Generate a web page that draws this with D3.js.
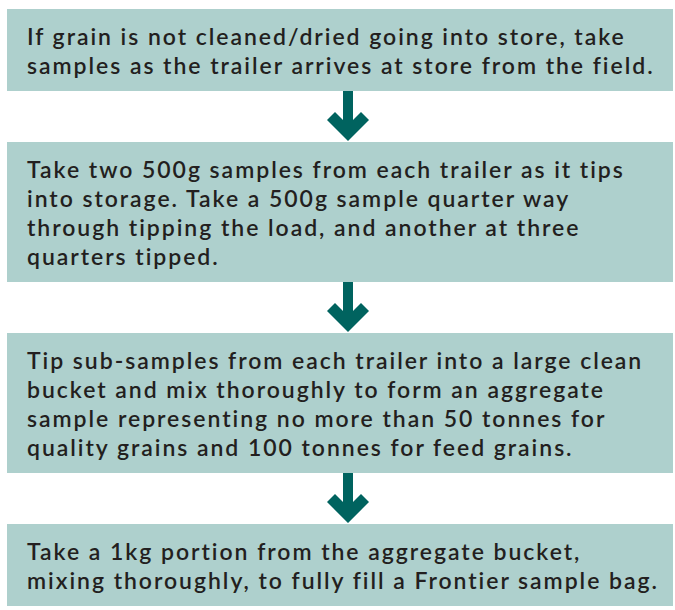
<!DOCTYPE html>
<html>
<head>
<meta charset="utf-8">
<script src="https://cdn.jsdelivr.net/npm/d3@7"></script>
<style>
  html, body { margin: 0; padding: 0; background: #ffffff; }
  svg { display: block; }
</style>
</head>
<body>
<svg id="chart" width="675" height="610"></svg>
<script>
// ---- data ----
const step1 = [
  "If grain is not cleaned/dried going into store, take",
  "samples as the trailer arrives at store from the field."
];
const step2 = [
  "Take two 500g samples from each trailer as it tips",
  "into storage. Take a 500g sample quarter way",
  "through tipping the load, and another at three",
  "quarters tipped."
];
const step3 = [
  "Tip sub-samples from each trailer into a large clean",
  "bucket and mix thoroughly to form an aggregate",
  "sample representing no more than 50 tonnes for",
  "quality grains and 100 tonnes for feed grains."
];
const step4 = [
  "Take a 1kg portion from the aggregate bucket,",
  "mixing thoroughly, to fully fill a Frontier sample bag."
];
const steps = [step1, step2, step3, step4];

// ---- layout ----
const boxLeft = 7, boxRight = 673;
const lineH = 29;
const padTop = 28, padBottom = 25;
const gap = 51;
const top0 = 9;
const boxFill = "#aed0cd";
const arrowFill = "#00635f";
const textFill = "#231f20";
const textX = 27;
const fontFamily = "Lato, 'Open Sans', sans-serif";
const fontSize = 23;

const svg = d3.select("#chart");

let y = top0;
const boxes = steps.map((lines, i) => {
  const h = padTop + padBottom + lineH * (lines.length - 1);
  const b = { i, lines, y0: y, y1: y + h };
  y = y + h + gap;
  return b;
});

// letter-spacing so the widest line spans the target width
const targetW = 630;
const probe = svg.append("text").attr("font-family", fontFamily).attr("font-weight", 600)
  .attr("font-size", fontSize).text(step4[1]);
const w0 = probe.node().getComputedTextLength();
probe.remove();
const ls = Math.max(0, (targetW - w0) / (step4[1].length - 1));

const g = svg.append("g");

g.selectAll("rect.box").data(boxes).join("rect")
  .attr("class", "box")
  .attr("x", boxLeft).attr("width", boxRight - boxLeft)
  .attr("y", d => d.y0).attr("height", d => d.y1 - d.y0)
  .attr("fill", boxFill);

boxes.forEach(b => {
  g.selectAll(null).data(b.lines).join("text")
    .attr("font-family", fontFamily)
    .attr("font-weight", 600)
    .attr("font-size", fontSize)
    .attr("letter-spacing", ls)
    .attr("fill", textFill)
    .attr("x", textX)
    .attr("y", (d, j) => b.y0 + padTop + j * lineH + fontSize * 0.36)
    .text(d => d);
});

// arrows between boxes (shaft + chevron head)
const cx = 348, shaftHalf = 5, headHalf = 21, thick = 8;
for (let k = 0; k < boxes.length - 1; k++) {
  const t = boxes[k].y1, tip = boxes[k + 1].y0 - 1;
  const oy = tip - headHalf;
  const iy = oy - thick;
  const jy = iy + (headHalf - thick - shaftHalf);
  const pts = [
    [cx - shaftHalf, t], [cx + shaftHalf, t],
    [cx + shaftHalf, jy],
    [cx + headHalf - thick, iy], [cx + headHalf, oy],
    [cx, tip],
    [cx - headHalf, oy], [cx - headHalf + thick, iy],
    [cx - shaftHalf, jy]
  ];
  g.append("path")
    .attr("d", d3.line()(pts) + "Z")
    .attr("fill", arrowFill);
}
</script>
</body>
</html>
